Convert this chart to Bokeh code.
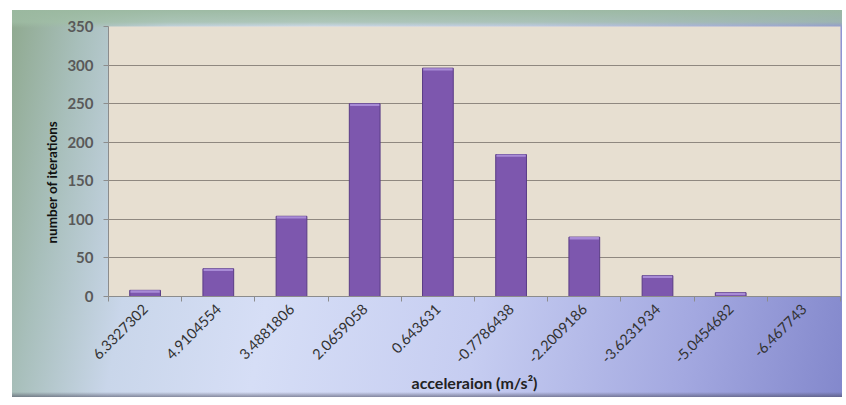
import math
from bokeh.plotting import figure
from bokeh.models import ColumnDataSource, FixedTicker, Range1d, Title
from bokeh.embed import file_html
from bokeh.resources import INLINE

# Histogram of acceleration bins
bin_labels = ["6.3327302", "4.9104554", "3.4881806", "2.0659058", "0.643631",
              "-0.7786438", "-2.2009186", "-3.6231934", "-5.0454682", "-6.467743"]
iterations = [8, 36, 104, 250, 296, 184, 77, 27, 5, 0]
y_ticks = [0, 50, 100, 150, 200, 250, 300, 350]

centers = [i + 0.5 for i in range(len(bin_labels))]
cap = [max(v - 3, 0) for v in iterations]
src = ColumnDataSource(dict(x=centers, top=iterations, cap=cap))

p = figure(width=846, height=405, output_backend="svg", toolbar_location=None,
           x_range=Range1d(0, len(bin_labels)), y_range=Range1d(0, 350),
           min_border_left=108, min_border_right=6, min_border_top=26,
           min_border_bottom=109)

# outer chart area: white page, tinted frame with a gradient
p.border_fill_color = None
p.styles = {
    "background": (
        "linear-gradient(180deg, rgba(155,185,160,0.95) 0px, rgba(160,190,165,0.75) 12px, "
        "rgba(160,190,165,0) 18px) 12px 10px / 830px 387px no-repeat, "
        "linear-gradient(0deg, rgba(70,70,90,0.55) 0px, rgba(70,70,90,0) 5px) 12px 10px / 830px 387px no-repeat, "
        "linear-gradient(100deg, #8fa98f 0%, #a8bfbb 8%, #c9d6ea 18%, #d6def6 34%, "
        "#c6cdf1 58%, #a3a8e0 82%, #8388cc 100%) 12px 10px / 830px 387px no-repeat, #ffffff"
    )
}

p.background_fill_color = "#e7dfd1"
p.outline_line_color = None

# bars with a lighter rounded-looking top
p.vbar(x="x", top="top", width=0.42, bottom=0, source=src,
       fill_color="#7d57ae", line_color="#5a3c86", line_width=1)
p.vbar(x="x", top="top", bottom="cap", width=0.40, source=src,
       fill_color="#a88bd6", line_color=None)

# x axis: labels at bin centres, tick marks between bins
p.xaxis.ticker = FixedTicker(ticks=centers, minor_ticks=list(range(len(bin_labels) + 1)))
p.xaxis.major_label_overrides = {c: lab for c, lab in zip(centers, bin_labels)}
p.xaxis.major_label_orientation = math.pi / 4
p.xaxis.major_tick_line_color = None
p.xaxis.minor_tick_line_color = "#8c8c8c"
p.xaxis.minor_tick_out = 5
p.xaxis.minor_tick_in = 0
p.xaxis.axis_line_color = "#8c8c8c"
p.xaxis.major_label_text_font = "Lato"
p.xaxis.major_label_text_font_size = "14.5px"
p.xaxis.major_label_text_color = "#333333"
p.xaxis.major_label_standoff = 4
p.xaxis.axis_label = "acceleraion (m/s²)"
p.xaxis.axis_label_text_font = "Lato"
p.xaxis.axis_label_text_font_style = "bold"
p.xaxis.axis_label_text_font_size = "16px"
p.xaxis.axis_label_text_color = "#222222"
p.xaxis.axis_label_standoff = 2

# y axis
p.yaxis.ticker = FixedTicker(ticks=y_ticks)
p.yaxis.minor_tick_line_color = None
p.yaxis.major_tick_line_color = "#8c8c8c"
p.yaxis.major_tick_out = 5
p.yaxis.major_tick_in = 0
p.yaxis.axis_line_color = "#8c8c8c"
p.yaxis.major_label_text_font = "Lato"
p.yaxis.major_label_text_font_style = "bold"
p.yaxis.major_label_text_font_size = "15px"
p.yaxis.major_label_text_color = "#595959"
p.yaxis.major_label_standoff = 10

# y title, aligned from the lower part of the left side
p.add_layout(Title(text="number of iterations", align="left", offset=53,
                   text_font="Lato", text_font_style="bold",
                   text_font_size="13.5px", text_color="#111111", standoff=9),
             "left")

p.xgrid.grid_line_color = None
p.ygrid.grid_line_color = "#8f8880"
p.ygrid.grid_line_width = 1

open("out.html", "w").write(file_html(p, INLINE))
